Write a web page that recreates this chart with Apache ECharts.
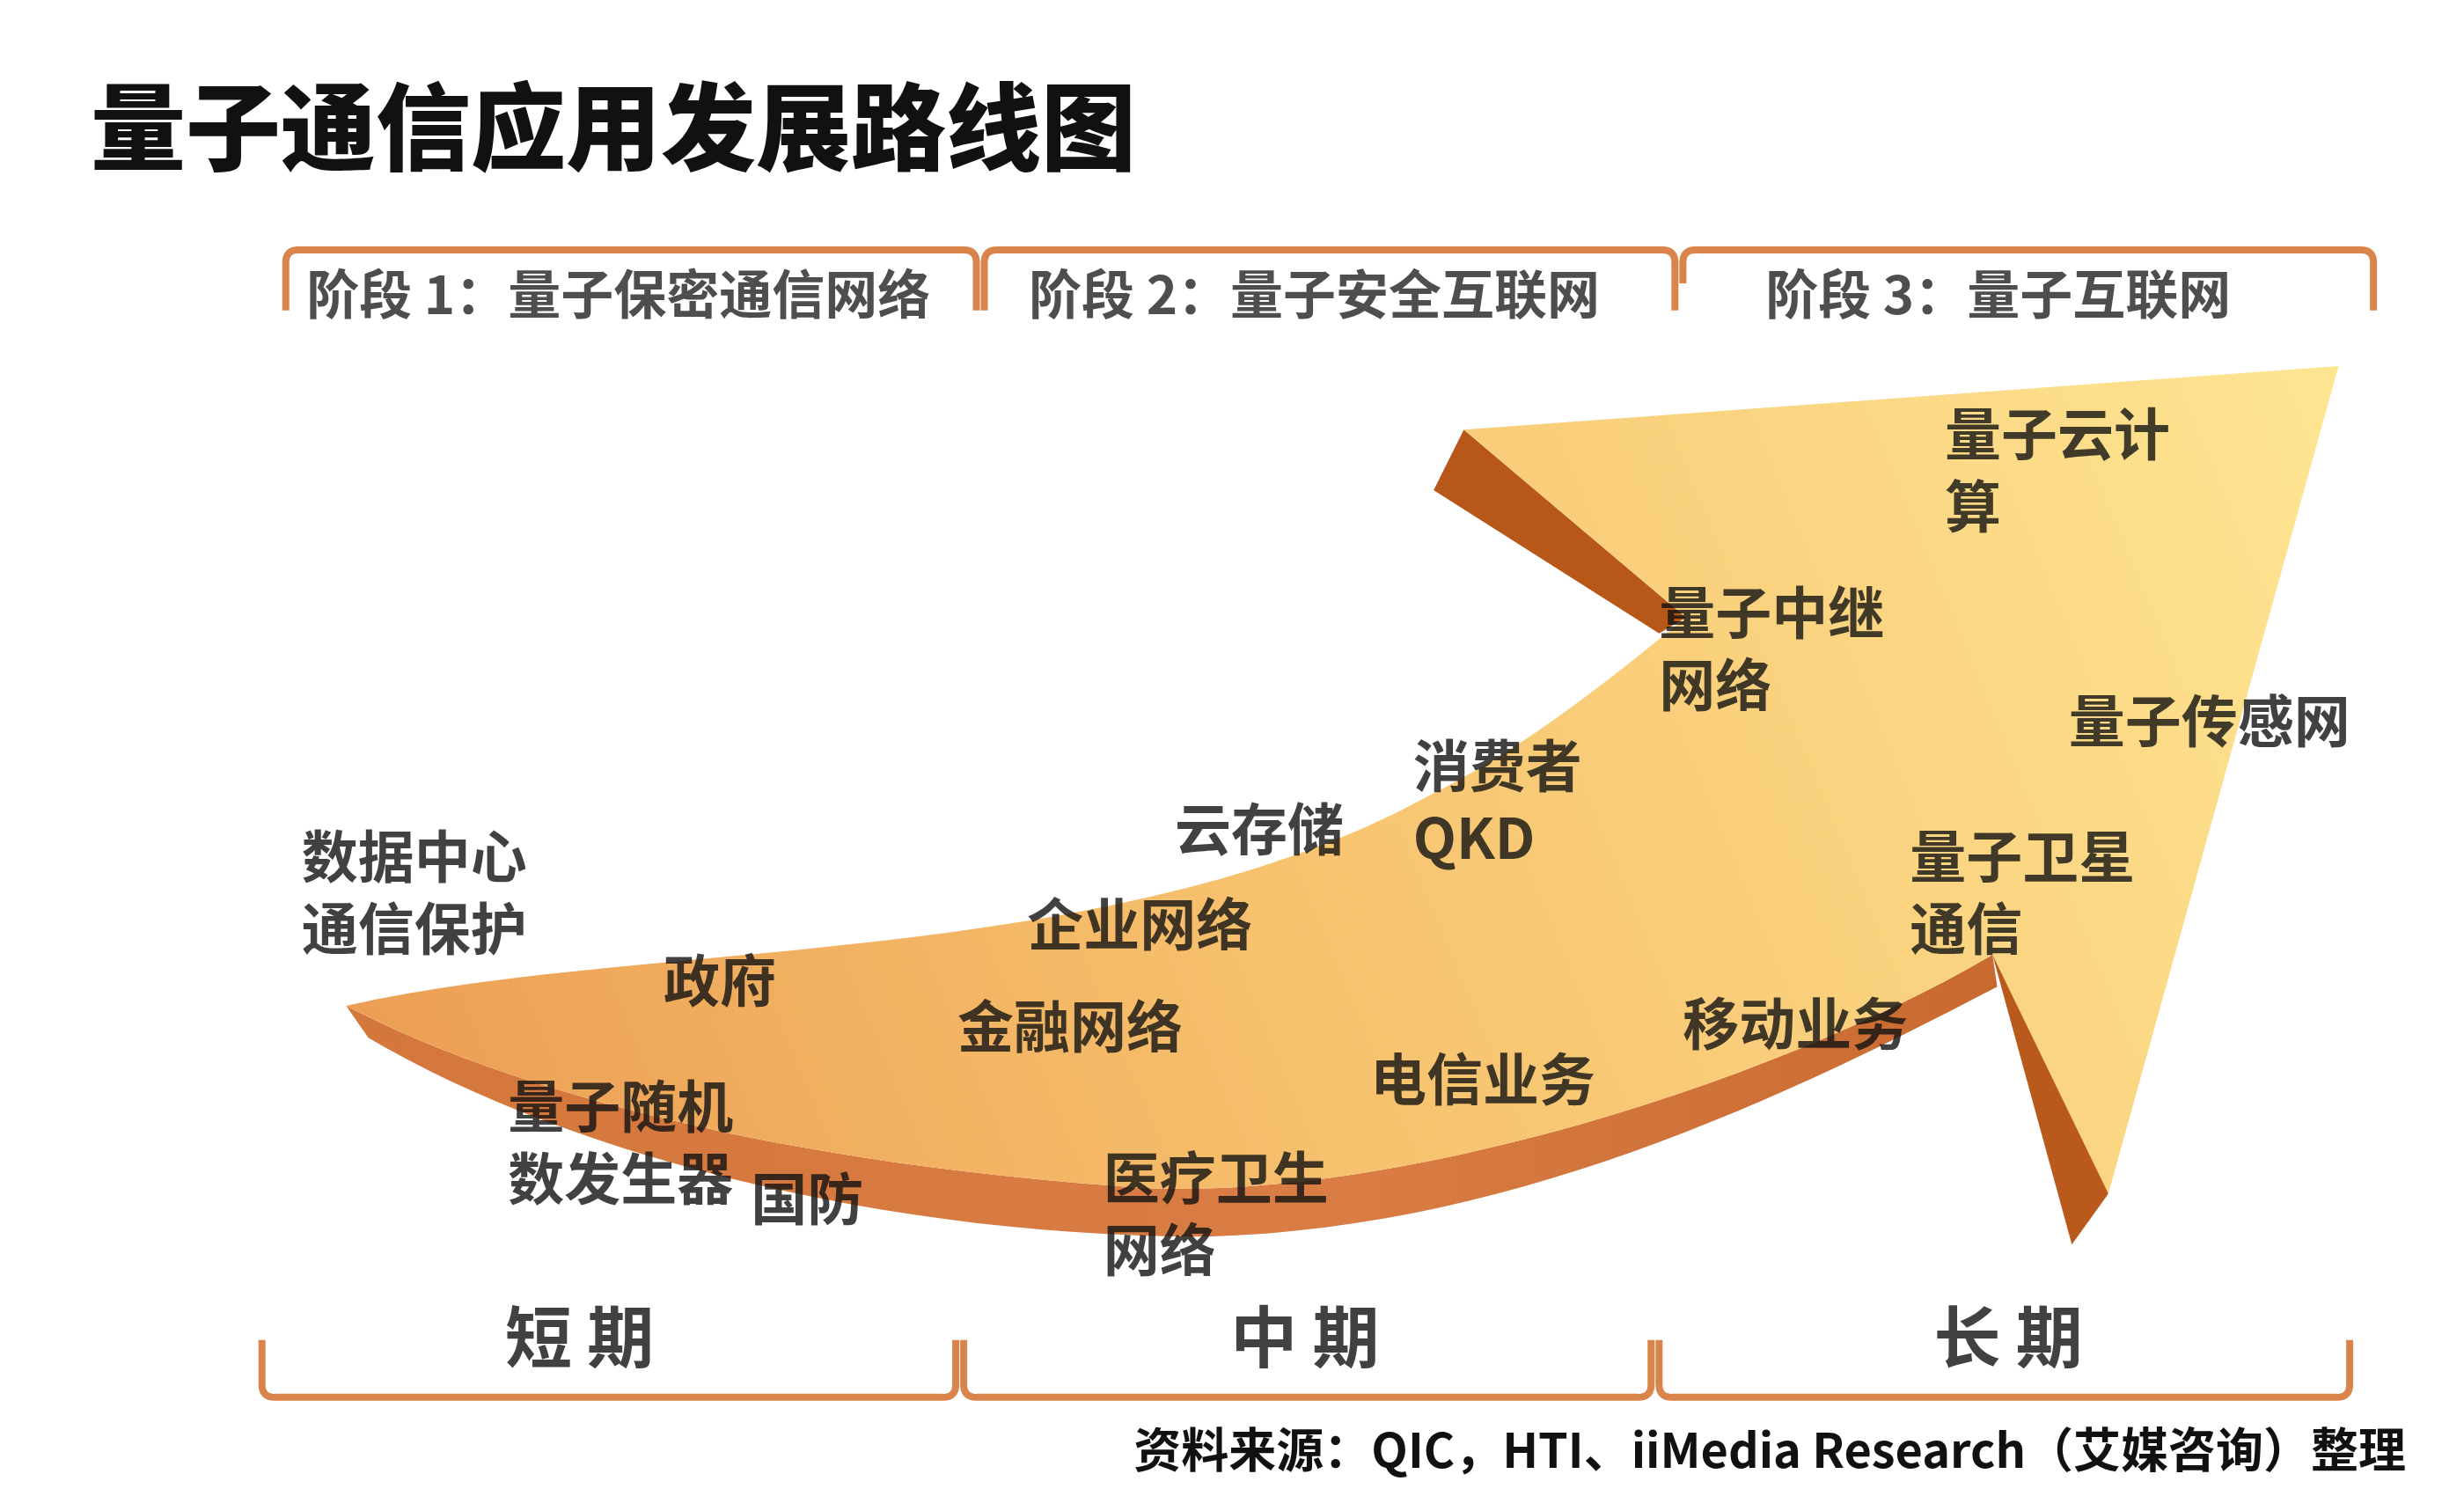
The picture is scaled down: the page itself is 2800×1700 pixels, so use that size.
<!DOCTYPE html>
<html><head><meta charset="utf-8">
<script src="https://cdn.jsdelivr.net/npm/echarts@6/dist/echarts.min.js"></script>
<style>html,body{margin:0;background:#fff}#c{width:2800px;height:1700px}</style>
</head><body><div id="c"></div>
<script>
const titleText = '量子通信应用发展路线图';
const sourceText = '资料来源：QIC，HTI、iiMedia Research（艾媒咨询）整理';
const appNames = ['数据中心\n通信保护','政府','量子随机\n数发生器','国防','金融网络','企业网络','云存储','医疗卫生\n网络','电信业务','消费者\nQKD','量子中继\n网络','量子云计\n算','量子传感网','量子卫星\n通信','移动业务'];
const appX = [190,418,320,473,603,647,740,695,863,890,1045,1225,1303,1203,1060];
const appY = [515,593,672,730,622,558,498,717,655,458,362,250,430,515,620];
const stageNames = ['阶段 1：量子保密通信网络','阶段 2：量子安全互联网','阶段 3：量子互联网'];
const stageX = [193,648,1112];
const periodNames = ['短 期','中 期','长 期'];
const periodX = [365,822,1265];

const W=1552,H=940,sx=2800/W,sy=1700/H;
const F='"Noto Sans CJK SC","Noto Sans",sans-serif';
const ORG='#d9844a';
function P(cmds){
  const out=[];let cx=0,cy=0;
  cmds.forEach(c=>{
    if(c[0]==='M'||c[0]==='L'){cx=c[1];cy=c[2];out.push([cx*sx,cy*sy]);}
    else if(c[0]==='C'){const [_,x1,y1,x2,y2,x,y]=c;for(let i=1;i<=30;i++){const t=i/30,u=1-t;out.push([(u*u*u*cx+3*u*u*t*x1+3*u*t*t*x2+t*t*t*x)*sx,(u*u*u*cy+3*u*u*t*y1+3*u*t*t*y2+t*t*t*y)*sy]);}cx=x;cy=y;}
    else if(c[0]==='Q'){const [_,x1,y1,x,y]=c;for(let i=1;i<=8;i++){const t=i/8,u=1-t;out.push([(u*u*cx+2*u*t*x1+t*t*x)*sx,(u*u*cy+2*u*t*y1+t*t*y)*sy]);}cx=x;cy=y;}
  });
  return out;
}
function lin(x,y,x2,y2,stops){return {type:'linear',x:x,y:y,x2:x2,y2:y2,colorStops:stops.map(s=>({offset:s[0],color:s[1]}))};}
const shapes=[
 {type:'polygon',shape:{points:P([['M',218,632],['L',232,652],['C',350,722,550,777,760,777],['C',950,772,1120,692,1258,620],['L',1255,600],['C',1100,690,850,760,700,745],['C',500,730,330,690,218,632]])},style:{fill:lin(0,0,1,0,[[0,'#d4773c'],[0.6,'#d97d45'],[1,'#c86a30']])}},
 {type:'polygon',shape:{points:P([['M',1255,600],['L',1305,782],['L',1328,750],['L',1268,588]])},style:{fill:'#b95a1c'}},
 {type:'polygon',shape:{points:P([['M',922,270],['L',903,308],['L',1045,398],['L',1062,388]])},style:{fill:'#b85818'}},
 {type:'polygon',shape:{points:P([['M',218,632],['C',400,590,700,610,900,500],['C',960,470,1010,430,1062,388],['L',922,270],['L',1473,230],['L',1328,750],['L',1255,600],['C',1100,690,850,760,700,745],['C',500,730,330,690,218,632]])},style:{fill:lin(0,1,1,0,[[0,'#eb9c52'],[0.45,'#f7c26e'],[1,'#fee592']])}}
];
function topBr(x1,x2){return {type:'polyline',shape:{points:P([['M',x1,178],['L',x1,165],['Q',x1,157,x1+8,157],['L',x2-8,157],['Q',x2,157,x2,165],['L',x2,195]])},style:{stroke:ORG,lineWidth:8,fill:null}};}
function botBr(x1,x2){return {type:'polyline',shape:{points:P([['M',x1,842],['L',x1,870],['Q',x1,878,x1+8,878],['L',x2-8,878],['Q',x2,878,x2,870],['L',x2,842]])},style:{stroke:ORG,lineWidth:8,fill:null}};}
[[180,615],[620,1055],[1060,1495]].forEach((b,i)=>{const s=topBr(b[0],b[1]);if(i<2){s.shape.points[0][1]=195*sy;}shapes.push(s);});
[[165,602],[607,1040],[1045,1480]].forEach(b=>shapes.push(botBr(b[0],b[1])));

const chart=echarts.init(document.getElementById('c'));
chart.setOption({
 animation:false,
 grid:{left:0,right:0,top:0,bottom:0},
 xAxis:{type:'value',min:0,max:W,show:false},
 yAxis:{type:'value',min:0,max:H,inverse:true,show:false},
 graphic:[
  ...shapes.map(s=>Object.assign(s,{z:0})),
  {type:'text',left:103,top:90,style:{text:titleText,font:`900 108px ${F}`,fill:'#111'}},
  {type:'text',right:66,top:1620,style:{text:sourceText,font:`bold 54px ${F}`,fill:'#111'}}
 ],
 series:[
  {type:'scatter',symbolSize:0,z:5,data:appNames.map((n,i)=>({name:n,value:[appX[i],appY[i]]})),
   label:{show:true,position:[0,0],align:'left',verticalAlign:'top',formatter:p=>p.name,fontFamily:F,fontWeight:'bold',fontSize:64,lineHeight:82,color:'#111'}},
  {type:'scatter',symbolSize:0,z:5,data:stageNames.map((n,i)=>({name:n,value:[stageX[i],185]})),
   label:{show:true,position:[0,0],align:'left',verticalAlign:'middle',formatter:p=>p.name,fontFamily:F,fontWeight:'bold',fontSize:60,color:'#222'}},
  {type:'scatter',symbolSize:0,z:5,data:periodNames.map((n,i)=>({name:n,value:[periodX[i],840]})),
   label:{show:true,position:[0,0],align:'center',verticalAlign:'middle',formatter:p=>p.name,fontFamily:F,fontWeight:'bold',fontSize:76,color:'#111'}}
 ]
});
</script></body></html>
